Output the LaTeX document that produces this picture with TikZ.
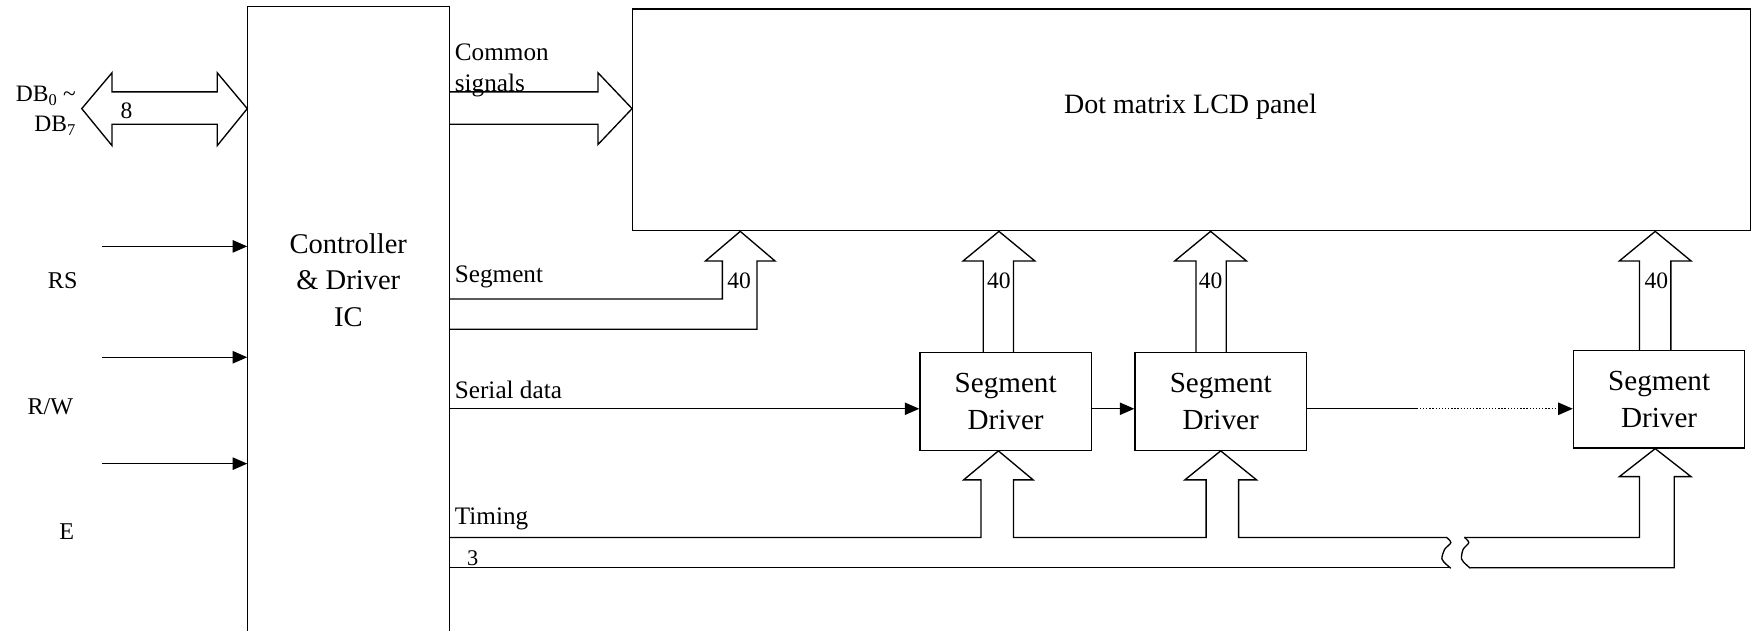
\documentclass[tikz,border=0pt]{standalone}
\usepackage{fontspec}
\setmainfont{Liberation Serif}
\usetikzlibrary{arrows.meta,calc}
\begin{document}
\begin{tikzpicture}[x=1pt,y=-1pt,
  wire/.style={line width=1.2pt},
  arr/.style={wire,-{Triangle[length=13pt,width=11pt]}},
  lbl/.style={font=\fontsize{22.5}{28}\selectfont, inner sep=0, anchor=west, align=left},
  sig/.style={font=\fontsize{21.5}{26}\selectfont, inner sep=0},
  big/.style={font=\fontsize{25.5}{32.5}\selectfont, align=center, inner sep=0},
  drv/.style={draw, line width=1.2pt, minimum width=153pt, minimum height=87pt, inner sep=0, align=center, font=\fontsize{26}{32.7}\selectfont},
  num/.style={font=\fontsize{21}{24}\selectfont, inner sep=0},
  ]
\useasboundingbox (0,0) rectangle (1568,563);

% controller
\node[minimum width=180pt, minimum height=570pt, inner sep=0] (ctrl) at (311,291) {};
\draw[wire] (ctrl.south west) -- (ctrl.north west) -- (ctrl.north east) -- (ctrl.south east);
\node[big] (ctrltxt) at (311,250) {Controller\\\& Driver\\IC};

% LCD panel
\node[draw, wire, minimum width=998pt, minimum height=198pt, inner sep=0] (lcd) at (1064,107) {};
\node[font=\fontsize{25}{30}\selectfont, inner sep=0] (lcdtxt) at (1063,95) {Dot matrix LCD panel};

% segment drivers
\node[drv] (d1) at (898,358.5) {Segment\\Driver};
\node[drv] (d2) at (1090,358.5) {Segment\\Driver};
\node[drv] (d3) at (1481.5,356.5) {Segment\\Driver};

% inputs
\coordinate (rsin) at (91,220);
\coordinate (rwin) at (91,319);
\coordinate (ein) at (91,414);
\draw[arr] (rsin) -- (rsin -| ctrl.west);
\draw[arr] (rwin) -- (rwin -| ctrl.west);
\draw[arr] (ein) -- (ein -| ctrl.west);
\node[sig] (rs) at (56,251) {RS};
\node[sig] (rw) at (45,363) {R/W};
\node[sig] (e) at (59.5,475) {E};

% data bus
\draw[wire] (100,82) -- (194,82) -- (194,65) -- (ctrl.west |- 0,97) -- (194,130) -- (194,111)
  -- (100,111) -- (100,130) -- (73,97) -- (100,65) -- cycle;
\node[num] (eight) at (113,99) {8};
\node[anchor=east, align=right, font=\fontsize{21}{27}\selectfont, inner sep=0] (db) at (68,99)
  {DB\textsubscript{0} \textasciitilde\\DB\textsubscript{7}};

% common signals
\draw[wire] (ctrl.east |- 0,82) -- (534,82) -- (534,65) -- (lcd.west |- 0,97) -- (534,129) -- (534,111) -- (ctrl.east |- 0,111);
\node[lbl] (common) at (406,63) {Common\\signals};

% segment bus
\draw[wire] (ctrl.east |- 0,267) -- (645,267) -- (645,233) -- (630,233) -- (661,0 |- lcd.south)
  -- (692,233) -- (676,233) -- (676,294) -- (ctrl.east |- 0,294);
\node[num] (n40a) at (660,251) {40};
\node[lbl] (segl) at (406,247) {Segment};

% driver -> LCD buses
\draw[wire] (878,0 |- d1.north) -- (878,233) -- (860,233) -- (892,0 |- lcd.south) -- (924,233) -- (905,233) -- (905,0 |- d1.north);
\node[num] (n40b) at (892,251) {40};
\draw[wire] (1068,0 |- d2.north) -- (1068,233) -- (1049,233) -- (1081,0 |- lcd.south) -- (1113,233) -- (1095,233) -- (1095,0 |- d2.north);
\node[num] (n40c) at (1081,251) {40};
\draw[wire] (1464,0 |- d3.north) -- (1464,233) -- (1446,233) -- (1478,0 |- lcd.south) -- (1510,233) -- (1492,233) -- (1492,0 |- d3.north);
\node[num] (n40d) at (1479,251) {40};

% serial data
\coordinate (sd) at (ctrl.east |- 0,365);
\draw[arr] (sd) -- (sd -| d1.west);
\draw[arr] (d1.east |- sd) -- (d2.west |- sd);
\coordinate (sdm) at (1265,365);
\draw[wire] (d2.east |- sd) -- (sdm);
\draw[arr, dash pattern=on 1.2pt off 1.6pt] (sdm) -- (d3.west |- sd);
\node[lbl] (sdl) at (406,348) {Serial data};

% timing bus
\draw[wire] (ctrl.east |- 0,480) -- (876,480) -- (876,428.5) -- (860.5,428.5) -- (891.5,0 |- d1.south)
  -- (922.5,428.5) -- (905,428.5) -- (905,480) -- (1077,480) -- (1077,428.5) -- (1058,428.5)
  -- (1090,0 |- d2.south) -- (1122,428.5) -- (1106,428.5) -- (1106,480) -- (1292,480);
\draw[wire] (ctrl.east |- 0,507) -- (1295,507);
\draw[wire] (1308,480) -- (1464,480) -- (1464,425.6) -- (1446,425.6) -- (1478,0 |- d3.south)
  -- (1510,425.6) -- (1495,425.6) -- (1495,507) -- (1313,507);
\draw[wire] plot[smooth] coordinates {(1291.5,479.7) (1295.5,484.5) (1290,490.5) (1287.5,499) (1291.5,504) (1295.5,507.4)};
\draw[wire] plot[smooth] coordinates {(1307.5,479.7) (1311.5,484.5) (1306.5,490.5) (1305,499) (1309,504) (1313,507.4)};
\node[lbl] (timl) at (406,463) {Timing};
\node[num, font=\fontsize{20}{24}\selectfont] (three) at (422,498) {3};
\end{tikzpicture}
\end{document}
